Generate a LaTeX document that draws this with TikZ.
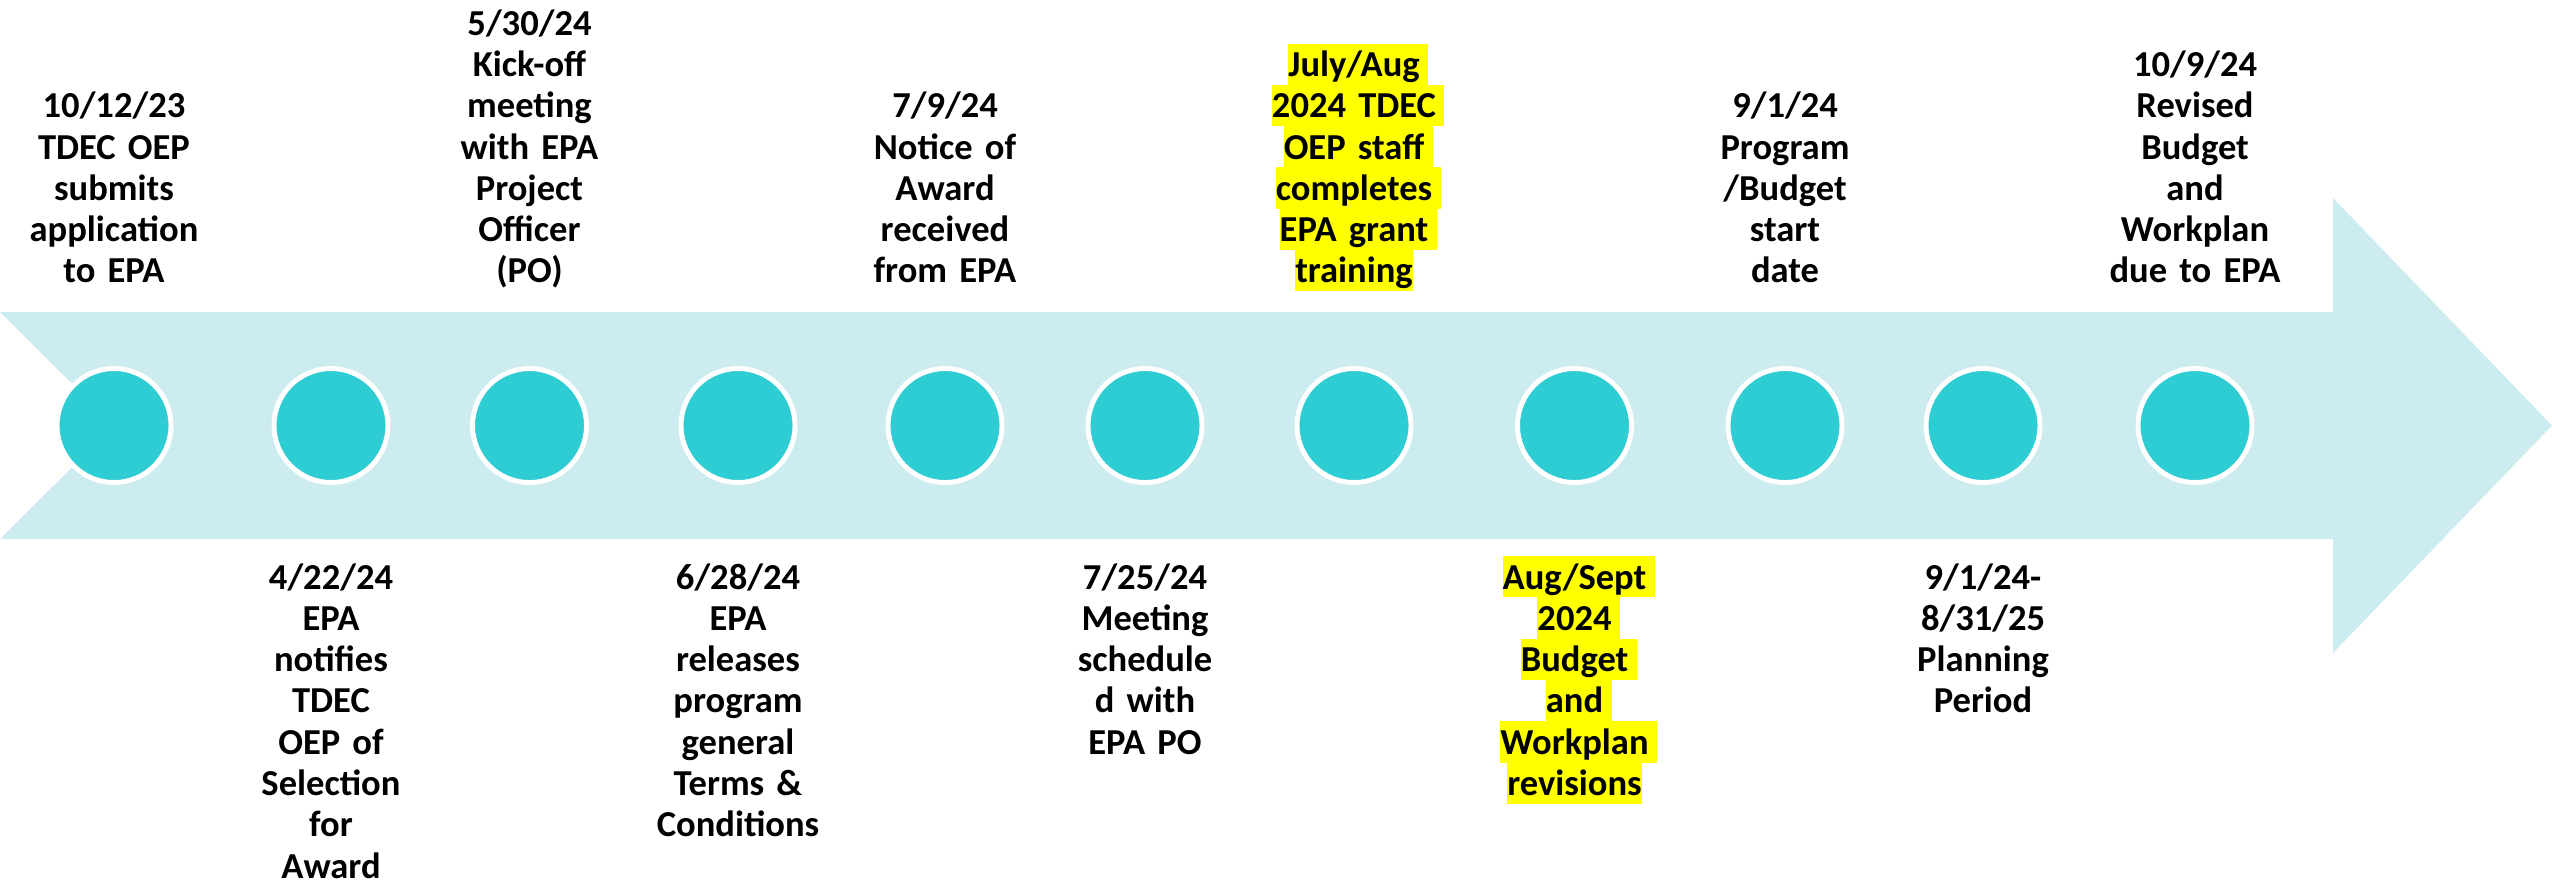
\documentclass[tikz,border=0pt]{standalone}
\usepackage{fontspec}
\setmainfont{Carlito}

\definecolor{arrowfill}{HTML}{CDECEF}
\definecolor{dotfill}{HTML}{2ECCD3}
\definecolor{hlyellow}{HTML}{FFFF00}

\newcommand{\hl}[1]{{\setlength{\fboxsep}{0pt}\colorbox{hlyellow}{\rule[-2.36pt]{0pt}{11.75pt}#1}}}
\newcommand{\hls}[1]{\hl{#1}\rlap{\hl{\kern.23em}}}

\tikzstyle{milestone} = [circle, minimum size=1.14cm, inner sep=0pt, fill=dotfill, draw=white, line width=1.4pt]
\tikzstyle{event} = [text width=3cm, align=center, inner sep=0pt, anchor=base, font=\fontsize{10.4pt}{11.75pt}\selectfont\bfseries]

\begin{document}
\begin{tikzpicture}
\useasboundingbox (0,0) rectangle (25.52,-8.82);

% notched arrow
\fill [arrowfill] (0,-3.12) -- (23.33,-3.12) -- (23.33,-1.98) -- (25.52,-4.255) -- (23.33,-6.53) -- (23.33,-5.39) -- (0,-5.39) -- (1.14,-4.255) -- cycle;

\foreach \n/\x in {1/1.14, 2/3.31, 3/5.295, 4/7.38, 5/9.45, 6/11.45, 7/13.54, 8/15.745, 9/17.85, 10/19.83, 11/21.95}
  \node (m\n) [milestone] at (\x,-4.255) {};

% above the arrow
\node (t1) [event] at (1.14,-1.178) {10/12/23\\TDEC OEP\\submits\\application\\to EPA};
\node (t3) [event] at (5.295,-0.352) {5/30/24\\Kick-off\\meeting\\with EPA\\Project\\Officer\\(PO)};
\node (t5) [event] at (9.45,-1.178) {7/9/24\\Notice of\\Award\\received\\from EPA};
\node (t7) [event] at (13.54,-0.765) {\hls{July/Aug}\\\hls{2024 TDEC}\\\hls{OEP staff}\\\hls{completes}\\\hls{EPA grant}\\\hl{training}};
\node (t9) [event] at (17.85,-1.178) {9/1/24\\Program\\/Budget\\start\\date};
\node (t11) [event] at (21.95,-0.765) {10/9/24\\Revised\\Budget\\and\\Workplan\\due to EPA};

% below the arrow
\node (b2) [event] at (3.31,-5.89) {4/22/24\\EPA\\notifies\\TDEC\\OEP of\\Selection\\for\\Award};
\node (b4) [event] at (7.38,-5.89) {6/28/24\\EPA\\releases\\program\\general\\Terms \&\\Conditions};
\node (b6) [event] at (11.45,-5.89) {7/25/24\\Meeting\\schedule\\d with\\EPA PO};
\node (b8) [event] at (15.745,-5.89) {\hls{Aug/Sept}\\\hls{2024}\\\hls{Budget}\\\hls{and}\\\hls{Workplan}\\\hl{revisions}};
\node (b10) [event] at (19.83,-5.89) {9/1/24-\\8/31/25\\Planning\\Period};
\end{tikzpicture}
\end{document}
